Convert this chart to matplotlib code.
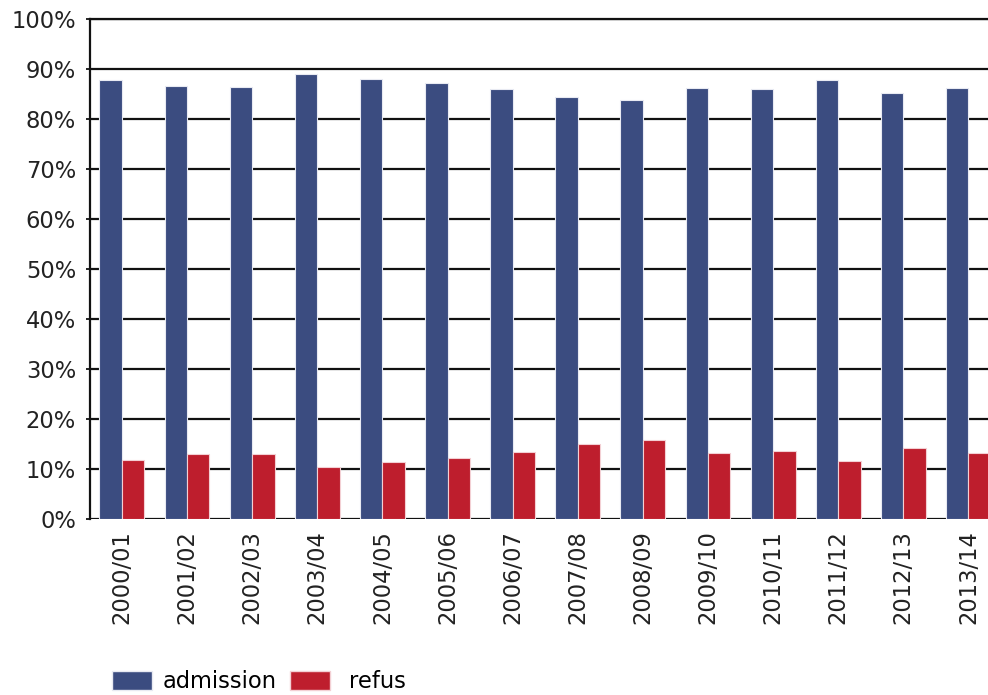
import matplotlib
matplotlib.use("Agg")
import matplotlib.pyplot as plt
import numpy as np
from matplotlib.patches import Patch

plt.rcParams['font.family'] = ['DejaVu Sans']

categories = ["2000/01", "2001/02", "2002/03", "2003/04", "2004/05", "2005/06", "2006/07",
              "2007/08", "2008/09", "2009/10", "2010/11", "2011/12", "2012/13", "2013/14"]
admission = [87.8, 86.6, 86.5, 89.1, 88.1, 87.3, 86.0, 84.4, 83.8, 86.3, 86.0, 87.9, 85.3, 86.3]
refus = [11.8, 13.0, 13.1, 10.5, 11.5, 12.3, 13.5, 15.1, 15.8, 13.3, 13.6, 11.7, 14.2, 13.3]
yticks = [0, 10, 20, 30, 40, 50, 60, 70, 80, 90, 100]

blue = "#3B4C80"
red = "#BE1E2D"
fs = 16.3

fig = plt.figure(figsize=(9.88, 6.95), dpi=100)
ax = fig.add_axes([90/988, (695-519)/695, 1 - 90/988 + 0.002, (519-19)/695])

x = np.arange(len(categories))
w = 0.345
ax.bar(x - w/2, admission, width=w, color=blue, edgecolor="#E8EAF2", linewidth=0.8, zorder=3)
ax.bar(x + w/2, refus, width=w, color=red, edgecolor="#F3D0D4", linewidth=0.8, zorder=3)

ax.set_xlim(-0.49, 13.33)
ax.set_ylim(0, 100)
ax.set_yticks(yticks)
ax.set_yticklabels([f"{v}%" for v in yticks], fontsize=fs, color="#222222")
ax.set_xticks(x)
ax.set_xticklabels(categories, rotation=90, fontsize=fs, color="#222222")
ax.tick_params(axis='x', length=0, pad=8)
ax.tick_params(axis='y', length=3, width=1.2, pad=7, color="black")

ax.yaxis.grid(True, color="#111111", linewidth=1.6, zorder=1)
ax.set_axisbelow(True)
for s in ["right", "bottom", "top"]:
    ax.spines[s].set_visible(False)
ax.spines["left"].set_linewidth(1.6)
ax.spines["left"].set_color("#111111")
ax.axhline(100, color="#111111", linewidth=1.6, zorder=1, clip_on=False)

h1 = [Patch(facecolor=blue, edgecolor="#E8EAF2", label="admission")]
h2 = [Patch(facecolor=red, edgecolor="#F3D0D4", label="refus")]
common = dict(loc="center left", frameon=False, fontsize=fs, handlelength=1.77,
              handleheight=0.93, borderaxespad=0, borderpad=0)
fig.legend(handles=h1, bbox_to_anchor=(112/988, 13/695), handletextpad=0.45, **common)
fig.legend(handles=h2, bbox_to_anchor=(290/988, 13/695), handletextpad=0.85, **common)

fig.savefig("out.png", dpi=100)
